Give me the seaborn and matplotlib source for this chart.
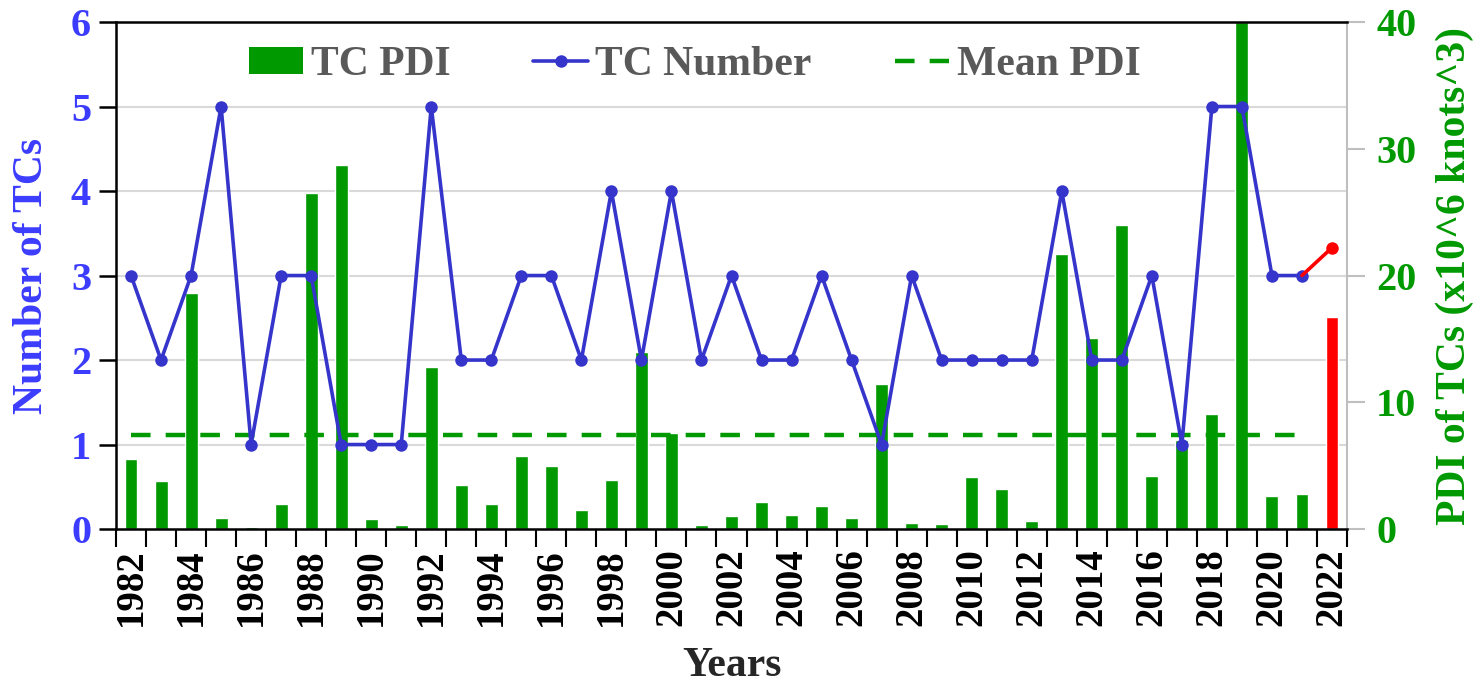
import numpy as np
import pandas as pd
import matplotlib
matplotlib.use("Agg")
import matplotlib.pyplot as plt
import seaborn as sns
from matplotlib.patches import Patch
from matplotlib.lines import Line2D

# ---------------- data ----------------
years = list(range(1982, 2023))
tc_number = [3, 2, 3, 5, 1, 3, 3, 1, 1, 1,
             5, 2, 2, 3, 3, 2, 4, 2, 4, 2,
             3, 2, 2, 3, 2, 1, 3, 2, 2, 2,
             2, 4, 2, 2, 3, 1, 5, 5, 3, 3]          # 1982-2021
tc_number_2022 = 3.33
pdi = [5.5, 3.8, 18.6, 0.9, 0.15, 1.95, 26.5, 28.7, 0.8, 0.35,
       12.8, 3.5, 2.0, 5.8, 5.0, 1.5, 3.85, 14.0, 7.6, 0.35,
       1.05, 2.15, 1.1, 1.8, 0.9, 11.45, 0.5, 0.4, 4.1, 3.15,
       0.6, 21.7, 15.1, 24.0, 4.2, 7.0, 9.1, 40.0, 2.6, 2.8,
       16.7]                                         # 1982-2022
mean_pdi = 7.42
left_ticks = [0, 1, 2, 3, 4, 5, 6]
right_ticks = [0, 10, 20, 30, 40]

GREEN = "#009900"
BLUE = "#3535cc"
BLUE_TXT = "#3c3cff"
RED = "#ff0000"
GRAY_TXT = "#595959"

sns.set_style("white")
plt.rcParams["font.family"] = ["Liberation Serif", "DejaVu Serif"]
plt.rcParams["font.weight"] = "bold"

fig = plt.figure(figsize=(14.76, 6.88), dpi=100)
ax = fig.add_axes([0.0786, 0.231, 0.834, 0.737])   # PDI bars (right scale)
ax2 = ax.twinx()                                    # TC number (left scale)

df = pd.DataFrame({"Year": [str(y) for y in years], "PDI": pdi})
bar_colors = [GREEN] * (len(years) - 1) + [RED]
sns.barplot(data=df, x="Year", y="PDI", hue="Year", palette=bar_colors,
            legend=False, width=0.43, saturation=1, ax=ax, zorder=2)

# background grid matching the left (number) scale
for v in left_ticks[1:-1]:
    ax.axhline(v * right_ticks[-1] / left_ticks[-1], color="#d9d9d9", lw=1.5, zorder=0)

# mean PDI line (1982-2021)
idx = np.arange(len(years))
sns.lineplot(x=idx[:-1], y=[mean_pdi] * (len(years) - 1), ax=ax, color=GREEN,
             lw=3.2, dashes=False, zorder=3, legend=False)
ax.lines[-1].set_dashes((4.4, 3.4))

ax.set_ylim(0, right_ticks[-1])
ax.set_yticks(right_ticks)
ax.yaxis.tick_right()
ax.yaxis.set_label_position("right")
ax.set_ylabel("PDI of TCs (x10^6 knots^3)", color=GREEN, fontsize=30,
              fontweight="bold", labelpad=14)
ax.tick_params(axis="y", colors="#bfbfbf", labelcolor=GREEN, labelsize=29,
               length=13, width=1.5, pad=8, right=True, left=False,
               labelright=True, labelleft=False)

# x axis: labels every 2 years, ticks between categories
ax.set_xlim(-0.5, len(years) - 0.5)
ax.set_xticks(idx[::2])
ax.set_xticklabels([str(y) for y in years[::2]], rotation=90, fontsize=28,
                   fontweight="bold")
ax.set_xticks(np.arange(len(years) + 1) - 0.5, minor=True)
ax.tick_params(axis="x", which="major", length=0, pad=14, colors="black")
ax.tick_params(axis="x", which="minor", length=13, width=1.5, colors="black",
               bottom=True)
ax.set_xlabel("Years", fontsize=30, fontweight="bold", labelpad=15)

for s in ["top", "bottom"]:
    ax.spines[s].set_color("black")
    ax.spines[s].set_linewidth(1.8)
ax.spines["left"].set_visible(False)
ax.spines["right"].set_color("#bfbfbf")
ax.spines["right"].set_linewidth(1.5)

# TC number line (left scale), drawn on top
sns.lineplot(x=idx[:-1], y=tc_number, ax=ax2, color=BLUE, lw=2.6,
             marker="o", markersize=9, markeredgewidth=0, zorder=4, legend=False)
sns.lineplot(x=idx[-2:], y=[tc_number[-1], tc_number_2022], ax=ax2, color=RED,
             lw=2.6, zorder=4, legend=False)
ax2.plot(idx[-1], tc_number_2022, "o", color=RED, markersize=9, markeredgewidth=0,
         zorder=5)
ax2.set_xlim(-0.5, len(years) - 0.5)
ax2.set_ylim(left_ticks[0], left_ticks[-1])
ax2.set_yticks(left_ticks)
ax2.yaxis.tick_left()
ax2.yaxis.set_label_position("left")
ax2.set_ylabel("Number of TCs", color=BLUE_TXT, fontsize=30, fontweight="bold",
               labelpad=14)
ax2.set_xlabel("")
ax2.tick_params(axis="y", colors="black", labelcolor=BLUE_TXT, labelsize=29,
                length=12, width=1.8, pad=6, left=True, right=False,
                labelleft=True, labelright=False)
for lab in ax2.get_yticklabels() + ax.get_yticklabels():
    lab.set_fontweight("bold")
for s in ["top", "bottom", "right"]:
    ax2.spines[s].set_visible(False)
ax2.spines["left"].set_color("black")
ax2.spines["left"].set_linewidth(1.8)

handles = [Patch(facecolor=GREEN, edgecolor="none"),
           Line2D([0], [0], color=BLUE, lw=2.6, marker="o", markersize=9,
                  markeredgewidth=0),
           Line2D([0], [0], color=GREEN, lw=3.2, dashes=(4.4, 3.4))]
leg = ax2.legend(handles, ["TC PDI", "TC Number", "Mean PDI"], loc="center",
                 bbox_to_anchor=(0.47, 0.915), ncol=3, frameon=False,
                 prop={"family": "Liberation Serif", "weight": "bold", "size": 30},
                 handlelength=1.3, handletextpad=0.18, columnspacing=2.0,
                 labelcolor=GRAY_TXT, handleheight=0.6)

fig.savefig("out.png", dpi=100)
